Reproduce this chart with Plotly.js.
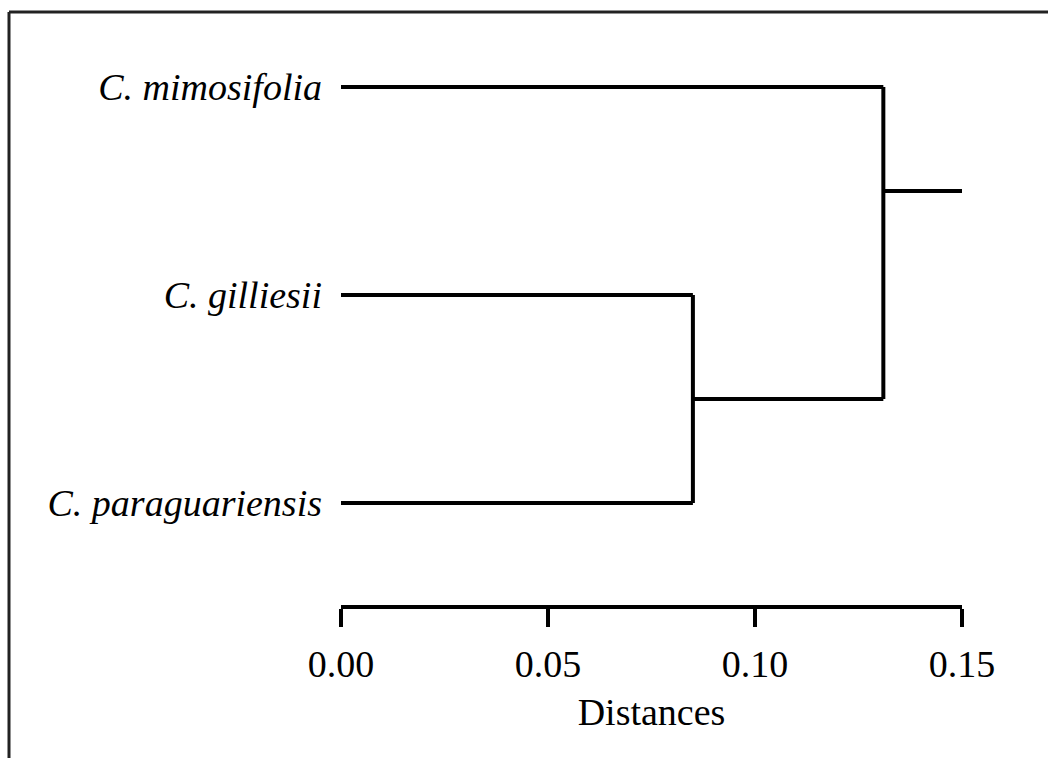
<!DOCTYPE html>
<html>
<head>
<meta charset="utf-8">
<script src="https://cdn.plot.ly/plotly-3.0.1.min.js"></script>
<style>html,body{margin:0;padding:0;background:#fff;}#chart{width:1048px;height:758px;}</style>
</head>
<body>
<div id="chart"></div>
<script>
// Data
const leafLabels = ['C. mimosifolia', 'C. gilliesii', 'C. paraguariensis'];
const leafPos = [3, 2, 1];
const mergeInner = 0.085;   // C. gilliesii + C. paraguariensis
const mergeOuter = 0.131;   // C. mimosifolia + inner cluster
const rootEnd = 0.15;
const tickVals = [0, 0.05, 0.10, 0.15];
const tickLabels = ['0.00', '0.05', '0.10', '0.15'];

const innerY = (leafPos[1] + leafPos[2]) / 2;
const rootY = (leafPos[0] + leafPos[1]) / 2;

const xs = [], ys = [];
function seg(x0, y0, x1, y1) { xs.push(x0, x1, null); ys.push(y0, y1, null); }
// leaves
seg(0, leafPos[0], mergeOuter, leafPos[0]);
seg(0, leafPos[1], mergeInner, leafPos[1]);
seg(0, leafPos[2], mergeInner, leafPos[2]);
// inner cluster
seg(mergeInner, leafPos[1], mergeInner, leafPos[2]);
seg(mergeInner, innerY, mergeOuter, innerY);
// outer cluster
seg(mergeOuter, leafPos[0], mergeOuter, innerY);
seg(mergeOuter, rootY, rootEnd, rootY);

const serif = 'Liberation Serif, Times New Roman, serif';
const trace = {
  x: xs, y: ys, mode: 'lines', type: 'scatter',
  line: {color: '#000', width: 4},
  hoverinfo: 'skip', cliponaxis: false, showlegend: false
};

const L = 341, R = 1048 - 962, T = 40, B = 758 - 605;
const W = 1048 - L - R, H = 758 - T - B;
function px(x) { return (x - L) / W; }
function py(y) { return (758 - B - y) / H; }

const layout = {
  width: 1048, height: 758,
  margin: {l: L, r: R, t: T, b: B, pad: 0},
  paper_bgcolor: '#fff', plot_bgcolor: '#fff',
  font: {family: serif, color: '#000', size: 38},
  xaxis: {
    range: [0, 0.15], showgrid: false, zeroline: false,
    showline: true, linecolor: '#000', linewidth: 4,
    ticks: 'outside', ticklen: 18, tickwidth: 4, tickcolor: '#000',
    tickvals: tickVals, ticktext: tickLabels,
    tickfont: {family: serif, size: 38, color: '#000'},
    ticklabelstandoff: 4,
    title: {text: 'Distances', font: {family: serif, size: 38, color: '#000'}, standoff: 16},
    fixedrange: true
  },
  yaxis: {
    range: [0.5096, 3.226], showgrid: false, zeroline: false, showline: false,
    ticks: '', tickvals: leafPos, ticktext: leafLabels,
    tickfont: {family: serif, size: 38, color: '#000', style: 'italic'},
    ticklabelstandoff: 18,
    fixedrange: true
  },
  shapes: [
    {type: 'line', xref: 'paper', yref: 'paper', x0: px(9), x1: px(1048), y0: py(12), y1: py(12), line: {color: '#222', width: 3}},
    {type: 'line', xref: 'paper', yref: 'paper', x0: px(9), x1: px(9), y0: py(12), y1: py(758), line: {color: '#222', width: 3}}
  ]
};

Plotly.newPlot('chart', [trace], layout, {displayModeBar: false, staticPlot: true});
</script>
</body>
</html>
